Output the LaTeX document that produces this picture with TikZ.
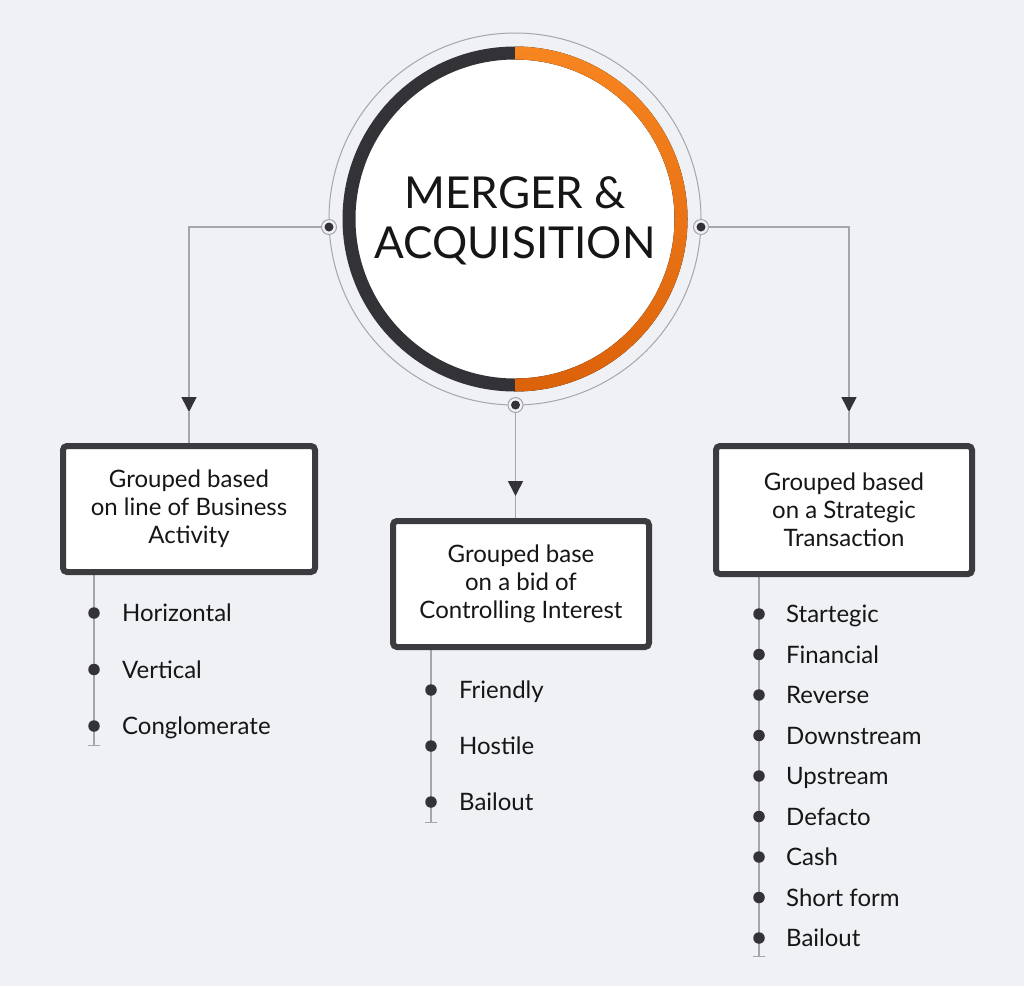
\documentclass[tikz,border=0pt]{standalone}
\usepackage{fontspec}
\setmainfont{Lato}
\usetikzlibrary{arrows.meta,positioning,backgrounds}
\definecolor{pagebg}{RGB}{240,241,245}
\definecolor{inkdark}{RGB}{50,50,55}
\definecolor{boxedge}{RGB}{60,60,64}
\definecolor{linegrey}{RGB}{165,165,170}
\definecolor{textblack}{RGB}{22,22,24}
\definecolor{mnaorange}{RGB}{247,133,32}
\definecolor{mnaorangedeep}{RGB}{220,98,10}
\tikzset{
  groupbox/.style={draw=boxedge,line width=6pt,rounded corners=4pt,fill=white,
    align=center,inner sep=0pt,text=textblack,font=\fontsize{24}{28}\selectfont},
  bullet/.style={circle,fill=inkdark,minimum size=11.5pt,inner sep=0pt},
  itemlabel/.style={inner sep=0pt,text height=17pt,text depth=0pt,text=textblack,
    font=\fontsize{24}{28}\selectfont},
  ringdot/.style={circle,draw=linegrey,line width=1pt,fill=pagebg,minimum size=15pt,inner sep=0pt,
    path picture={\fill[inkdark] (path picture bounding box.center) circle (4.5pt);}},
  link/.style={draw=linegrey,line width=1.5pt},
  listline/.style={draw=linegrey,line width=1.5pt,-{Bar[width=12pt,line width=1.5pt]}}
}
\begin{document}
\begin{tikzpicture}[x=1pt,y=-1pt]
  \useasboundingbox (0,0) rectangle (1024,986);

  % central circle
  \draw[linegrey,line width=1pt] (515,219) circle (186pt);
  \fill[white] (515,219) circle (162pt);
  \fill[inkdark] (515,46.5) arc[start angle=-90,end angle=-270,radius=172.5]
    -- (515,378.5) arc[start angle=90,end angle=270,radius=159.5] -- cycle;
  \fill[top color=mnaorange,bottom color=mnaorangedeep] (515,46.5) arc[start angle=-90,end angle=90,radius=172.5]
    -- (515,378.5) arc[start angle=90,end angle=-90,radius=159.5] -- cycle;
  \node[text=textblack,align=center,font=\fontsize{44}{50}\selectfont] (title) at (515,221)
    {MERGER \&\\ACQUISITION};

  \node[ringdot] (dl) at (329,227) {};
  \node[ringdot] (dr) at (701,227) {};
  \node[ringdot] (db) at (515.5,405) {};

  % group boxes
  \node[groupbox,minimum width=252pt,minimum height=126pt] (bl) at (189,509)
    {Grouped based\\on line of Business\\Activity};
  \node[groupbox,minimum width=256pt,minimum height=126pt] (bm) at (521,584)
    {Grouped base\\on a bid of\\Controlling Interest};
  \node[groupbox,minimum width=256pt,minimum height=128pt] (br) at (844,510)
    {Grouped based\\on a Strategic\\Transaction};

  % connectors
  \coordinate (tl) at (189,412);
  \coordinate (tm) at (515.5,496);
  \coordinate (tr) at (849,412);
  \draw[link,-{Triangle[length=15pt,width=15pt,color=inkdark]}] (dl) -| (tl);
  \draw[link,-{Triangle[length=15pt,width=15pt,color=inkdark]}] (db) -- (tm);
  \draw[link,-{Triangle[length=15pt,width=15pt,color=inkdark]}] (dr) -| (tr);
  \draw[link] (tl) -- (tl |- bl.north);
  \draw[link] (tm) -- (tm |- bm.north);
  \draw[link] (tr) -- (tr |- br.north);

  % lists
  \coordinate (el) at (94,746);
  \coordinate (em) at (431,823);
  \coordinate (er) at (759,957);
  \begin{scope}[on background layer]
    \fill[pagebg] (0,0) rectangle (1024,986);
    \draw[listline] (el |- bl.south) -- (el);
    \draw[listline] (em |- bm.south) -- (em);
    \draw[listline] (er |- br.south) -- (er);
  \end{scope}

  \foreach \lbl [count=\i] in {Horizontal,Vertical,Conglomerate} {
    \node[bullet] (pl\i) at (94,556.5+56.5*\i) {};
    \node[itemlabel,right=22pt of pl\i] (ql\i) {\lbl};
  }
  \foreach \lbl [count=\i] in {Friendly,Hostile,Bailout} {
    \node[bullet] (pm\i) at (431,634+56*\i) {};
    \node[itemlabel,right=22pt of pm\i] (qm\i) {\lbl};
  }
  \foreach \lbl [count=\i] in {Startegic,Financial,Reverse,Downstream,Upstream,Defacto,Cash,Short form,Bailout} {
    \node[bullet] (pr\i) at (759,573.5+40.5*\i) {};
    \node[itemlabel,right=21pt of pr\i] (qr\i) {\lbl};
  }
\end{tikzpicture}
\end{document}
